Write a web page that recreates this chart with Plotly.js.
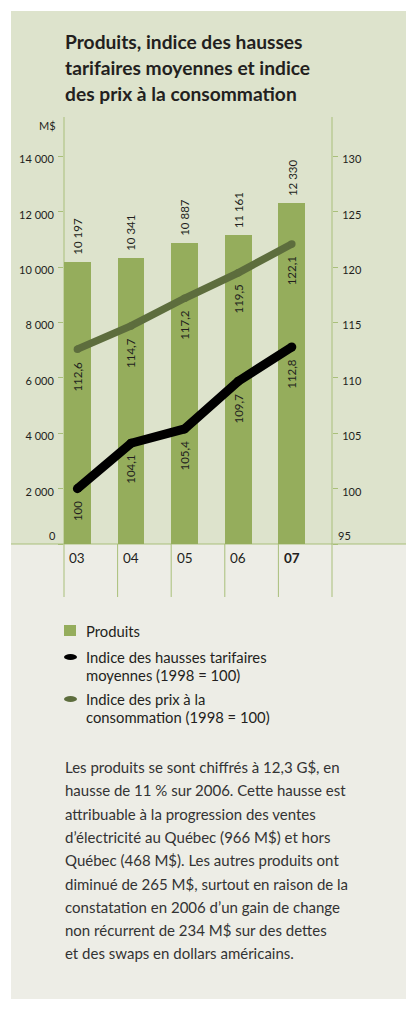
<!DOCTYPE html>
<html><head><meta charset="utf-8">
<script src="https://cdn.plot.ly/plotly-3.0.1.min.js"></script>
<style>html,body{margin:0;padding:0;background:#fff;overflow:hidden}</style>
</head><body><div id="chart" style="width:406px;height:1011px"></div>
<script>
// ---- data ----
const years = ['03', '04', '05', '06', '07'];
const produits = [10197, 10341, 10887, 11161, 12330];
const indiceTarifs = [100, 104.1, 105.4, 109.7, 112.8];
const indiceIPC = [112.6, 114.7, 117.2, 119.5, 122.1];
const leftTicks = [0, 2000, 4000, 6000, 8000, 10000, 12000, 14000];
const rightTicks = [95, 100, 105, 110, 115, 120, 125, 130];
const leftUnit = 'M$';
const titleLines = ['Produits, indice des hausses', 'tarifaires moyennes et indice', 'des prix à la consommation'];
const legendProduits = ['Produits'];
const legendTarifs = ['Indice des hausses tarifaires', 'moyennes (1998 = 100)'];
const legendIPC = ['Indice des prix à la', 'consommation (1998 = 100)'];
const bodyLines = [
  'Les produits se sont chiffrés à 12,3 G$, en',
  'hausse de 11\u00a0% sur 2006. Cette hausse est',
  'attribuable à la progression des ventes',
  'd’électricité au Québec (966 M$) et hors',
  'Québec (468 M$). Les autres produits ont',
  'diminué de 265 M$, surtout en raison de la',
  'constatation en 2006 d’un gain de change',
  'non récurrent de 234 M$ sur des dettes',
  'et des swaps en dollars américains.'
];

// ---- style ----
const FONT = 'Lato, "Open Sans", sans-serif';
const TXT = '#231f20';
const BAR = '#95ad5c';
const IPC = '#5d6d3d';
const AX = '#a9bf7a';
const BG_TOP = '#dde3cc';
const BG_BOT = '#ededE6';

// plot area in pixels
const L = 64, R = 332, T = 117, B = 544;
const xp = px => (px - L) / (R - L);
const yp = py => (B - py) / (B - T);
const YMAX = 15430;
const Y2MIN = 95, Y2MAX = 95 + YMAX / 400;

const fmtThousands = v => String(v).replace(/\B(?=(\d{3})+(?!\d))/g, '\u00a0');
const fmtIdx = v => String(v).replace('.', ',');

const xsBar = years.map((_, i) => i);
const xsMid = years.map((_, i) => i + 0.25);

const traces = [
  {type: 'bar', x: xsBar, y: produits, width: 0.5, offset: 0, marker: {color: BAR, line: {width: 0}},
   hoverinfo: 'skip', name: legendProduits.join(' ')},
  {type: 'scatter', x: xsMid, y: indiceIPC, yaxis: 'y2', mode: 'lines+markers',
   line: {color: IPC, width: 7.5}, marker: {color: IPC, size: 7.5}, name: legendIPC.join(' ')},
  {type: 'scatter', x: xsMid, y: indiceTarifs, yaxis: 'y2', mode: 'lines+markers',
   line: {color: '#000', width: 9}, marker: {color: '#000', size: 9}, name: legendTarifs.join(' ')}
];

const shapes = [];
const rect = (x0, y0, x1, y1, color, layer) => shapes.push({type: 'rect', xref: 'paper', yref: 'paper',
  x0: xp(x0), x1: xp(x1), y0: yp(y0), y1: yp(y1), fillcolor: color, line: {width: 0}, layer: layer || 'below'});
const line = (x0, y0, x1, y1) => shapes.push({type: 'line', xref: 'paper', yref: 'paper',
  x0: xp(x0), x1: xp(x1), y0: yp(y0), y1: yp(y1), line: {color: AX, width: 1}, layer: 'below'});

rect(11, 11, 420, B, BG_TOP);
rect(11, B, 420, 999, BG_BOT);
line(11, B, 420, B);
for (let i = 0; i <= years.length; i++) {
  const px = L + (R - L) * i / years.length;
  line(px, i === 0 || i === years.length ? T : B, px, 597);
}

const ann = [];
const txt = (text, x, y, size, opts) => ann.push(Object.assign({text, xref: 'paper', yref: 'paper',
  x: xp(x), y: yp(y), xanchor: 'left', yanchor: 'middle', showarrow: false,
  font: {family: FONT, size, color: TXT}}, opts || {}));

titleLines.forEach((t, k) => txt('<b>' + t + '</b>', 63, 41 + k * 26.5, 19.2));
txt(leftUnit, 58, 125, 11, {xanchor: 'right'});
// bottom tick labels sit above the baseline in the original
txt(fmtThousands(leftTicks[0]), 58, 535, 11, {xanchor: 'right'});
txt(String(rightTicks[0]), 336, 535, 11);

// bar value labels
produits.forEach((v, i) => ann.push({text: fmtThousands(v), x: i + 0.25, y: v, xref: 'x', yref: 'y',
  textangle: -90, xanchor: 'center', yanchor: 'bottom', yshift: 5, showarrow: false,
  font: {family: FONT, size: 11.5, color: TXT}}));
// index labels inside bars
[indiceTarifs, indiceIPC].forEach(arr => arr.forEach((v, i) => ann.push({text: fmtIdx(v), x: i + 0.25, y: v,
  xref: 'x', yref: 'y2', textangle: -90, xanchor: 'center', yanchor: 'top', yshift: -10, showarrow: false,
  font: {family: FONT, size: 11.5, color: TXT}})));
// category labels
years.forEach((yr, i) => ann.push({text: i === years.length - 1 ? '<b>' + yr + '</b>' : yr,
  x: i + 0.25, xref: 'x', y: yp(558), yref: 'paper', xanchor: 'center', yanchor: 'middle', showarrow: false,
  font: {family: FONT, size: 13.5, color: TXT}}));

// legend
rect(64, 625, 76, 636, BAR, 'above');
shapes.push({type: 'circle', xref: 'paper', yref: 'paper', x0: xp(64), x1: xp(77), y0: yp(654), y1: yp(660),
  fillcolor: '#000', line: {width: 0}});
shapes.push({type: 'circle', xref: 'paper', yref: 'paper', x0: xp(64), x1: xp(77), y0: yp(696), y1: yp(702),
  fillcolor: IPC, line: {width: 0}});
legendProduits.forEach((t, k) => txt(t, 84, 631 + k * 18, 14.8));
legendTarifs.forEach((t, k) => txt(t, 84, 657 + k * 18, 14.8));
legendIPC.forEach((t, k) => txt(t, 84, 699 + k * 18, 14.8));

bodyLines.forEach((t, k) => txt(t, 63, 767 + k * 23.3, 15, {font: {family: FONT, size: 15, color: '#333'}}));

const tickCommon = {ticks: 'outside', ticklen: 5, tickcolor: AX, tickwidth: 1, showgrid: false, zeroline: false,
  showline: false, fixedrange: true, tickfont: {family: FONT, size: 11, color: TXT}, ticklabelshift: 3,
  ticklabelstandoff: 2};
const layout = {
  width: 406, height: 1011,
  margin: {l: L, r: 406 - R, t: T, b: 1011 - B, pad: 0},
  paper_bgcolor: '#ffffff', plot_bgcolor: 'rgba(0,0,0,0)',
  showlegend: false, bargap: 0,
  font: {family: FONT, color: TXT},
  xaxis: {range: [0, years.length], showticklabels: false, ticks: '', showgrid: false, zeroline: false,
    showline: false, fixedrange: true},
  yaxis: Object.assign({range: [0, YMAX], tickvals: leftTicks,
    ticktext: leftTicks.map((v, i) => i === 0 ? '' : fmtThousands(v))}, tickCommon),
  yaxis2: Object.assign({range: [Y2MIN, Y2MAX], overlaying: 'y', side: 'right', tickvals: rightTicks,
    ticktext: rightTicks.map((v, i) => i === 0 ? '' : String(v))}, tickCommon),
  shapes, annotations: ann
};
Plotly.newPlot('chart', traces, layout, {staticPlot: true, displayModeBar: false});
</script></body></html>
